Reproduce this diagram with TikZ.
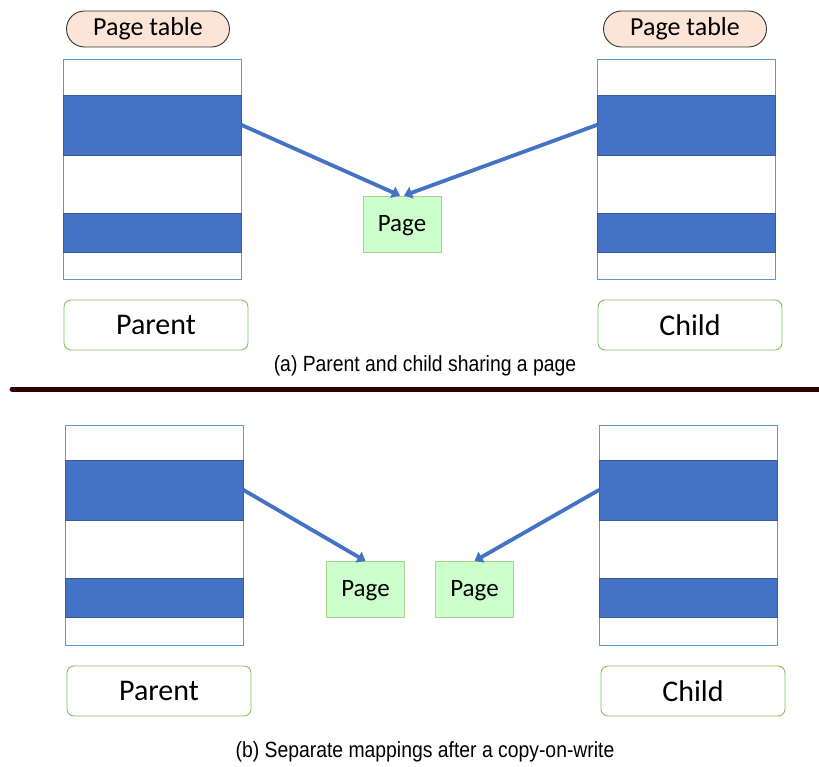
\documentclass[tikz,border=0pt]{standalone}
\usepackage{fontspec}
\setmainfont{Carlito}
\newfontfamily\capfont[FakeStretch=0.88]{Liberation Sans}
\usetikzlibrary{positioning, arrows.meta, shapes.misc}
\definecolor{bandblue}{RGB}{68,114,196}
\definecolor{edgeblue}{RGB}{91,155,213}
\definecolor{pillfill}{RGB}{252,228,214}
\definecolor{pagefill}{RGB}{204,255,204}
\definecolor{pagedraw}{RGB}{169,209,142}
\definecolor{procdraw}{RGB}{130,190,90}
\definecolor{rulecol}{RGB}{48,0,0}

\begin{document}
\begin{tikzpicture}[x=1pt, y=-1pt, >={Triangle[length=8pt, width=12pt]},
      pill/.style={rounded rectangle, draw=black!80, line width=0.9pt,
                   fill=pillfill, minimum width=163pt, minimum height=36pt,
                   inner sep=0pt, font=\fontsize{26}{28}\selectfont},
      ptab/.style={draw=edgeblue, line width=0.8pt, fill=white,
                   minimum width=178pt, minimum height=220pt, inner sep=0pt},
      band/.style={fill=bandblue, draw=bandblue!80!black, line width=0.5pt,
                   minimum width=178pt, inner sep=0pt},
      pagebox/.style={draw=pagedraw, line width=0.9pt, fill=pagefill,
                      minimum width=78pt, minimum height=56pt, inner sep=0pt,
                      text depth=2pt, font=\fontsize{25}{28}\selectfont},
      proc/.style={draw=procdraw, line width=0.9pt, rounded corners=7pt,
                   minimum width=184pt, minimum height=50pt, inner sep=0pt,
                   font=\fontsize{30}{32}\selectfont},
      caption/.style={font=\capfont\fontsize{22}{24}\selectfont},
      map/.style={draw=bandblue, line width=3.8pt, ->}]
    \useasboundingbox (0,0) rectangle (819,767);

    % (a) shared page
    \node[pill] (pillA) at (148,29)  {Page table};
    \node[pill] (pillB) at (685,29)  {Page table};
    \node[ptab] (ptA) at (152,169) {};
    \node[ptab] (ptB) at (686.5,169) {};
    \node[band, minimum height=60pt, below=36pt of ptA.north] (ptA1) {};
    \node[band, minimum height=39pt, below=58pt of ptA1]      (ptA2) {};
    \node[band, minimum height=60pt, below=36pt of ptB.north] (ptB1) {};
    \node[band, minimum height=39pt, below=58pt of ptB1]      (ptB2) {};
    \node[pagebox] (pg) at (402,224) {Page};
    \draw[map] (ptA1.east) -- ([xshift=-2pt]pg.north);
    \draw[map] (ptB1.west) -- ([xshift=2pt]pg.north);
    \node[proc] (parA) at (156,325) {Parent};
    \node[proc] (chdA) at (690,325) {Child};
    \node[caption] (capA) at (425,366) {(a) Parent and child sharing a page};

    \draw[rulecol, line width=5pt, line cap=round] (12,389) -- (821,389);

    % (b) after copy-on-write
    \node[ptab] (qtA) at (154,535) {};
    \node[ptab] (qtB) at (688.5,535) {};
    \node[band, minimum height=60pt, below=35pt of qtA.north] (qtA1) {};
    \node[band, minimum height=39pt, below=58pt of qtA1]      (qtA2) {};
    \node[band, minimum height=60pt, below=35pt of qtB.north] (qtB1) {};
    \node[band, minimum height=39pt, below=58pt of qtB1]      (qtB2) {};
    \node[pagebox] (pgA) at (365.5,589.5) {Page};
    \node[pagebox] (pgB) at (474.5,589.5) {Page};
    \draw[map] (qtA1.east) -- (pgA.north);
    \draw[map] (qtB1.west) -- (pgB.north);
    \node[proc] (parB) at (159,691) {Parent};
    \node[proc] (chdB) at (693,691) {Child};
    \node[caption] (capB) at (425,752) {(b) Separate mappings after a copy-on-write};
  \end{tikzpicture}
\end{document}
